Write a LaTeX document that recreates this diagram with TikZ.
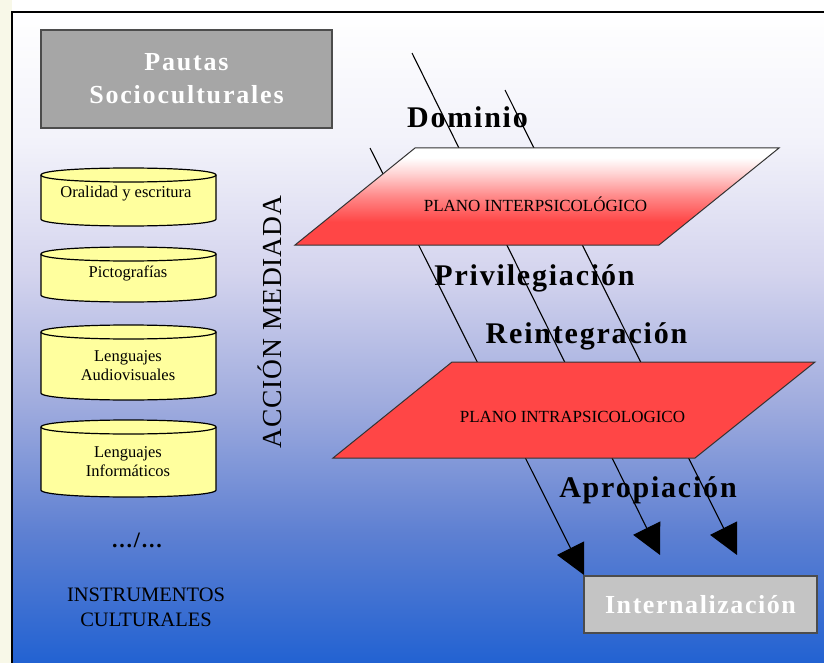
\documentclass[tikz,border=0pt]{standalone}
\usepackage{fontspec}
\setmainfont{Liberation Serif}
\usetikzlibrary{arrows.meta}
\definecolor{cream}{HTML}{F8F8E8}
\definecolor{bgA}{HTML}{2262D2}
\definecolor{bgB}{HTML}{5E80D2}
\definecolor{bgC}{HTML}{A0ACDE}
\definecolor{bgD}{HTML}{D4D4EE}
\definecolor{bgE}{HTML}{F2F2FA}
\definecolor{planered}{HTML}{FF4646}
\definecolor{pinkA}{HTML}{FF8888}
\definecolor{pinkB}{HTML}{FFD4D4}
\definecolor{cylyellow}{HTML}{FFFF9E}
\definecolor{boxgray}{HTML}{A6A6A6}
\definecolor{boxgrayB}{HTML}{C4C4C4}
\pgfdeclareverticalshading{bgshade}{100bp}{color(0bp)=(bgA); color(25bp)=(bgA); color(35bp)=(bgB); color(45bp)=(bgC); color(55bp)=(bgD); color(65bp)=(bgE); color(75bp)=(white); color(100bp)=(white)}
\pgfdeclareverticalshading{planeshade}{100bp}{color(0bp)=(planered); color(37bp)=(planered); color(50bp)=(pinkA); color(62bp)=(pinkB); color(70bp)=(white); color(100bp)=(white)}
\newcommand\drawcyl[4]{%
  \filldraw[fill=cylyellow, draw=black, line width=1.2pt] (#1,#3) -- (#1,#4) .. controls (#1,#4+9.33) and (#2,#4+9.33) .. (#2,#4) -- (#2,#3) .. controls (#2,#3-9.33) and (#1,#3-9.33) .. (#1,#3) -- cycle;
  \draw[line width=1.2pt] (#1,#3) .. controls (#1,#3+9.33) and (#2,#3+9.33) .. (#2,#3);}
\begin{document}
\begin{tikzpicture}[x=1pt,y=-1pt,
  flow/.style={line width=1.1pt, -{Triangle[length=30pt,width=30pt]}},
  lbl/.style={inner sep=0pt, anchor=base, font=\fontsize{30}{32}\selectfont\bfseries\addfontfeature{LetterSpace=6}},
  planetext/.style={inner sep=0pt, font=\fontsize{17}{19}\selectfont},
  cyltext/.style={inner sep=0pt, align=center, font=\fontsize{16.5}{19}\selectfont},
  graybox/.style={draw=black!70, line width=1.6pt, fill=boxgray, text=white, inner sep=0pt}
]
\useasboundingbox (0,0) rectangle (824,663);
\fill[white] (0,0) rectangle (824,663);
\fill[cream] (0,0) rectangle (12,663);
\shade[shading=bgshade] (12,12) rectangle (824,663);
\draw[line width=2pt] (12,663) -- (12,12) -- (824,12);

% boxes
\node[graybox, minimum width=291pt, minimum height=98pt, align=center,
  font=\fontsize{26}{33}\selectfont\bfseries\addfontfeature{LetterSpace=7}] (pautas) at (186.5,79) {Pautas\\Socioculturales};

% cylinders
\drawcyl{41}{216}{175}{219}
\drawcyl{41}{216}{254}{295}
\drawcyl{41}{216}{332}{393}
\drawcyl{41}{216}{427}{490}
\node[cyltext] (c1) at (126,194) {Oralidad y escritura};
\node[cyltext] (c2) at (128,273) {Pictografías};
\node[cyltext] (c3) at (128,366) {Lenguajes\\Audiovisuales};
\node[cyltext] (c4) at (128,462) {Lenguajes\\Informáticos};
\node[inner sep=0pt, font=\fontsize{22}{24}\selectfont\bfseries\addfontfeature{LetterSpace=8}] (dots) at (137,540) {.../...};
\node[inner sep=0pt, align=center, font=\fontsize{20.5}{25}\selectfont] (instr) at (146,607) {INSTRUMENTOS\\CULTURALES};
\node[inner sep=0pt, rotate=90, font=\fontsize{27.5}{29}\selectfont\addfontfeature{LetterSpace=3}] (accion) at (270,322) {ACCIÓN MEDIADA};

% flow lines
\coordinate (s0) at (370,148); \coordinate (t0) at (584,575);
\coordinate (s1) at (412,53);  \coordinate (t1) at (660,555);
\coordinate (s2) at (505,90);  \coordinate (t2) at (737,555);
\draw[flow] (s0) -- (t0);
\draw[flow] (s1) -- (t1);
\draw[flow] (s2) -- (t2);

% planes
\coordinate (p1a) at (415,148); \coordinate (p1b) at (779,148);
\coordinate (p1c) at (659,245); \coordinate (p1d) at (295,245);
\shadedraw[shading=planeshade, draw=black!80, line width=1pt] (p1a) -- (p1b) -- (p1c) -- (p1d) -- cycle;
\coordinate (p2a) at (452,362); \coordinate (p2b) at (815,362);
\coordinate (p2c) at (695,458); \coordinate (p2d) at (333,458);
\filldraw[fill=planered, draw=black!80, line width=1pt] (p2a) -- (p2b) -- (p2c) -- (p2d) -- cycle;
\node[planetext] (inter) at (535.5,204) {PLANO INTERPSICOLÓGICO};
\node[planetext] (intra) at (572.5,417) {PLANO INTRAPSICOLOGICO};

% labels
\node[lbl] (dom) at (467.5,128) {Dominio};
\node[lbl] (priv) at (534.5,285) {Privilegiación};
\node[lbl] (rein) at (586.5,343) {Reintegración};
\node[lbl] (apro) at (648,497) {Apropiación};

\node[graybox, fill=boxgrayB, minimum width=233pt, minimum height=57pt,
  font=\fontsize{26}{28}\selectfont\bfseries\addfontfeature{LetterSpace=6}] (intern) at (700.5,604.5) {Internalización};
\end{tikzpicture}
\end{document}
